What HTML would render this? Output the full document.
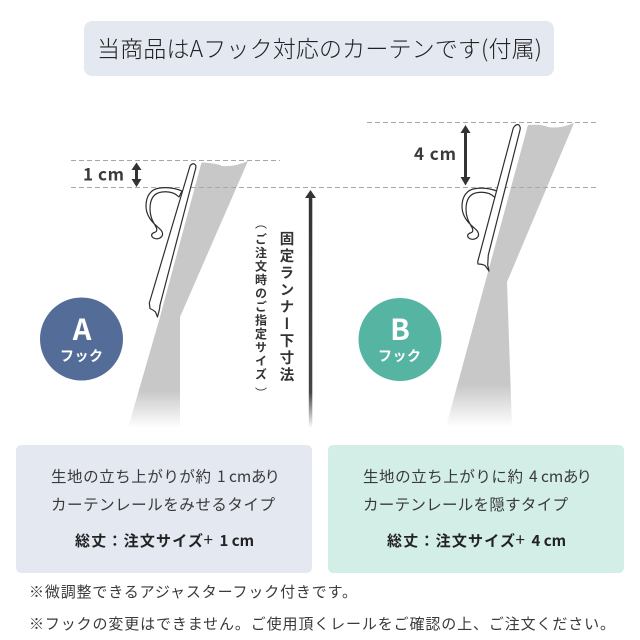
<!DOCTYPE html>
<html lang="ja"><head><meta charset="utf-8"><title>Aフック</title>
<style>
html,body{margin:0;padding:0;background:#fff}
body{position:relative;width:640px;height:640px;overflow:hidden}
svg{display:block}
text{font-family:"Noto Sans CJK JP","Liberation Sans",sans-serif;fill:#3a3a3a}
.v{position:absolute;writing-mode:vertical-rl;font-family:"Noto Sans CJK JP","Liberation Sans",sans-serif;color:#333;white-space:nowrap;line-height:1}
</style></head><body>
<svg width="640" height="640" viewBox="0 0 640 640" xmlns="http://www.w3.org/2000/svg">
<defs>
<linearGradient id="fa" x1="0" y1="0" x2="0" y2="1"><stop offset="0" stop-color="#c8c8c8"/><stop offset=".86" stop-color="#c8c8c8"/><stop offset="1" stop-color="#fff"/></linearGradient>
<linearGradient id="ar" x1="0" y1="0" x2="0" y2="1"><stop offset="0" stop-color="#333"/><stop offset=".85" stop-color="#444"/><stop offset="1" stop-color="#fff"/></linearGradient>
<g id="hk" fill="#fff" stroke="#2e2e2e" stroke-width="1.200" stroke-linejoin="round">
<path d="M182 191C175 188 168 187 160 188C150 189 146 197 146 206C146 214 151 221 156 225.500C160 229 163 231 162.500 235C161 239 156 239.500 153.500 238C151 236.500 151 234 153.500 232.800C155.500 232 157.500 232 156.500 228C154 223 150 218 150 209C150 200 153 193 162 192C170 191 175 193 179 197Z"/>
</g>
</defs>
<rect width="640" height="640" fill="#fff"/>
<rect x="84" y="21" width="470" height="55" rx="8" fill="#e4e8f1"/>
<text x="97" y="57" font-size="23" font-weight="300" textLength="445" lengthAdjust="spacing" style="fill:#222">当商品はAフック対応のカーテンです(付属)</text>

<!-- Curtains -->
<path d="M201.500 162.500Q216 163 222 166Q235 167 248 161L180 317V428H128L160 317Z" fill="url(#fa)"/>
<path d="M528 125Q542 124 548 127Q560 129 574 123L507 282L512 427H446L488 272Z" fill="url(#fa)"/>

<path d="M71 160.500H280M71 187.500H596M367 122.500H596" stroke="#a8a8a8" stroke-width="1" stroke-dasharray="5 3" fill="none"/>

<!-- Hook A -->
<use href="#hk"/>
<path d="M190 166Q192.500 162.500 195 164.500Q196.500 166 195.500 169L160 305L159.500 309L157.500 317L155.500 312Q153.500 310 150 308.500L149.300 303Z" fill="#fff" stroke="#2e2e2e" stroke-width="1.200" stroke-linejoin="round"/>
<!-- Hook B -->
<use href="#hk" transform="translate(316 0.500)"/>
<path d="M513.300 128Q516 123.500 519 125Q520.800 127 520 130L488.300 255L487.700 265L489 271L485 265.500Q482 264 478 264L477.700 261.700Z" fill="#fff" stroke="#2e2e2e" stroke-width="1.200" stroke-linejoin="round"/>

<!-- Dimension arrows -->
<g fill="#333">
<path d="M136.500 162.500L141.500 170H138V179H141.500L136.500 187L131.500 179H135V170H131.500Z"/>
<path d="M465.500 125L470.500 133H467V177H470.500L465.500 185.500L460.500 177H464V133H460.500Z"/>
</g>
<path d="M310.500 190L316 198H312.300V428H308.800V198H305Z" fill="url(#ar)"/>

<text x="83" y="180.500" font-size="17" font-weight="700" textLength="41" lengthAdjust="spacing">1 cm</text>
<text x="414" y="160" font-size="17" font-weight="700" textLength="42" lengthAdjust="spacing">4 cm</text>

<!-- Badges -->
<circle cx="81.500" cy="339" r="41.500" fill="#546d98"/>
<circle cx="400" cy="339.500" r="41.500" fill="#56b4a2"/>
<text x="82" y="340" font-size="29" font-weight="700" text-anchor="middle" style="fill:#fff">A</text>
<text x="60" y="361" font-size="14" font-weight="700" textLength="43" lengthAdjust="spacing" style="fill:#fff">フック</text>
<text x="400" y="340" font-size="29" font-weight="700" text-anchor="middle" style="fill:#fff">B</text>
<text x="378" y="361" font-size="14" font-weight="700" textLength="43" lengthAdjust="spacing" style="fill:#fff">フック</text>

<!-- Panels -->
<rect x="16" y="445" width="296" height="128" rx="5" fill="#e4e8f1"/>
<rect x="328" y="445" width="296" height="128" rx="5" fill="#d3eee7"/>
<g font-size="15.500">
<text x="51" y="482" textLength="160" lengthAdjust="spacing">生地の立ち上がりが約</text>
<text x="217" y="482">1</text><text x="229" y="482">cm</text><text x="251" y="482" textLength="29" lengthAdjust="spacing">あり</text>
<text x="51" y="510" textLength="224" lengthAdjust="spacing">カーテンレールをみせるタイプ</text>
<text x="363" y="482" textLength="160" lengthAdjust="spacing">生地の立ち上がりに約</text>
<text x="529" y="482">4</text><text x="541" y="482">cm</text><text x="563" y="482" textLength="29" lengthAdjust="spacing">あり</text>
<text x="363" y="510" textLength="205" lengthAdjust="spacing">カーテンレールを隠すタイプ</text>
</g>
<g font-size="15" font-weight="700">
<text x="75" y="546" textLength="128" lengthAdjust="spacing" style="fill:#222">総丈：注文サイズ</text>
<text x="203.500" y="546" font-size="17" font-weight="400" style="fill:#222">+</text>
<text x="219.500" y="546" style="fill:#222">1 cm</text>
<text x="387" y="546" textLength="128" lengthAdjust="spacing" style="fill:#222">総丈：注文サイズ</text>
<text x="515.500" y="546" font-size="17" font-weight="400" style="fill:#222">+</text>
<text x="531.500" y="546" style="fill:#222">4 cm</text>
</g>
<g font-size="15">
<text x="29" y="597" textLength="328" lengthAdjust="spacing">※微調整できるアジャスターフック付きです。</text>
<text x="29" y="629" textLength="586" lengthAdjust="spacing">※フックの変更はできません。ご使用頂くレールをご確認の上、ご注文ください。</text>
</g>
</svg>
<div class="v" style="left:279px;top:231px;font-size:14.500px;letter-spacing:2.500px;font-weight:700">固定ランナー下寸法</div>
<div class="v" style="left:254.500px;top:232.500px;font-size:12px;letter-spacing:1.500px;font-weight:700">ご注文時のご指定サイズ</div>
<div class="v" style="left:254.500px;top:216.500px;font-size:12px;font-weight:400">（</div>
<div class="v" style="left:254.500px;top:387px;font-size:12px;font-weight:400">）</div>
</body></html>
